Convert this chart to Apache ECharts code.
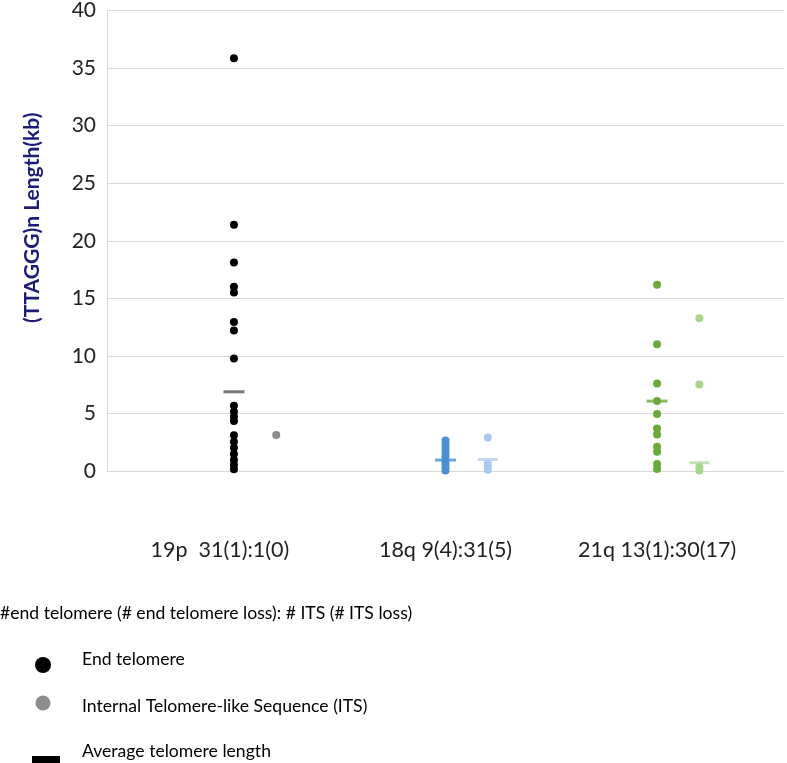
<!DOCTYPE html>
<html>
<head>
<meta charset="utf-8">
<script src="https://cdn.jsdelivr.net/npm/echarts@6/dist/echarts.min.js"></script>
<style>
html,body{margin:0;padding:0;background:#fff;}
#chart{width:787px;height:763px;}
</style>
</head>
<body>
<div id="chart"></div>
<script>
// ---- data ----
var categories = ['19p  31(1):1(0)', '18q 9(4):31(5)', '21q 13(1):30(17)'];
var yTicks = [0, 5, 10, 15, 20, 25, 30, 35, 40];
var end19p = [35.86, 21.4, 18.1, 16.0, 15.5, 12.95, 12.2, 9.78, 5.67, 5.15, 4.71, 4.34, 3.1, 2.54, 2.02, 1.48, 0.95, 0.52, 0.15];
var its19p = [3.12];
var end18q = [2.65, 2.3, 1.95, 1.6, 1.25, 0.9, 0.6, 0.3, 0.05];
var its18q = [2.92, 0.65, 0.35, 0.1];
var end21q = [16.17, 11.0, 7.6, 6.07, 4.95, 3.7, 3.18, 2.1, 1.67, 0.6, 0.17];
var its21q = [13.27, 7.52, 0.37, 0.05];
var meanEnd = [6.88, 0.95, 6.07];
var meanIts = [null, 1.0, 0.72];
var legendHeader = '#end telomere (# end telomere loss): # ITS (# ITS loss)';
var legendLabels = ['End telomere', 'Internal Telomere-like Sequence (ITS)', 'Average telomere length'];

// ---- style ----
var endColors = ['#000000', '#4a8fd6', '#6aaa3c'];
var itsColors = ['#8c8c8c', '#a9c9ee', '#a9d48f'];
var meanEndColors = ['#555555', '#4a8fd6', '#6aaa3c'];
var meanItsColors = ['#8c8c8c', '#b4d0f0', '#b5dba0'];
var ITS_OFFSET = 0.2;
var FONT = 'Lato, "Open Sans", sans-serif';
var LEG_FONT = '17.6px ' + FONT;

var endSets = [end19p, end18q, end21q];
var itsSets = [its19p, its18q, its21q];

var series = [];
endSets.forEach(function (arr, i) {
  series.push({
    type: 'scatter', name: categories[i] + ' end', symbol: 'circle', symbolSize: 8,
    itemStyle: { color: endColors[i], opacity: 1 }, z: 3,
    data: arr.map(function (v) { return [i, v]; })
  });
});
itsSets.forEach(function (arr, i) {
  series.push({
    type: 'scatter', name: categories[i] + ' ITS', symbol: 'circle', symbolSize: 8,
    itemStyle: { color: itsColors[i], opacity: 1 }, z: 3,
    data: arr.map(function (v) { return [i + ITS_OFFSET, v]; })
  });
});
series.push({
  type: 'scatter', name: 'mean end', symbol: 'rect', symbolSize: [21, 3], z: 4,
  data: meanEnd.map(function (v, i) {
    return { value: [i, v], itemStyle: { color: meanEndColors[i] } };
  })
});
series.push({
  type: 'scatter', name: 'mean ITS', symbol: 'rect', symbolSize: [20, 3], z: 4,
  data: meanIts.map(function (v, i) {
    return v === null ? null : { value: [i + ITS_OFFSET, v], itemStyle: { color: meanItsColors[i] } };
  }).filter(function (d) { return d !== null; })
});

var chart = echarts.init(document.getElementById('chart'), null, { renderer: 'canvas' });
chart.setOption({
  animation: false,
  backgroundColor: '#ffffff',
  grid: { left: 107, right: 0, top: 10, bottom: 292, containLabel: false },
  xAxis: {
    type: 'value', min: -0.6, max: 2.6, interval: 0.2,
    axisLine: { show: true, onZero: false, lineStyle: { color: '#d9d9d9', width: 1 } },
    axisTick: { show: false },
    splitLine: { show: false },
    axisLabel: {
      interval: 0, hideOverlap: false, margin: 68,
      color: '#222', fontFamily: FONT, fontSize: 21.5,
      formatter: function (v) {
        var r = Math.round(v);
        if (Math.abs(v - r) < 1e-6 && r >= 0 && r < categories.length) {
          return r === 0 ? '{a|' + categories[r] + '}' : categories[r];
        }
        return '';
      },
      rich: { a: { color: '#222', fontFamily: FONT, fontSize: 21.5, padding: [0, 28, 0, 0] } }
    }
  },
  yAxis: {
    type: 'value', min: yTicks[0], max: yTicks[yTicks.length - 1], interval: 5,
    name: '(TTAGGG)n Length(kb)', nameLocation: 'middle', nameGap: 64, nameRotate: 90,
    nameTextStyle: { color: '#1c1c78', fontFamily: FONT, fontWeight: 'bold', fontSize: 21, padding: [0, 0, 0, 46] },
    axisLine: { show: true, onZero: false, lineStyle: { color: '#d9d9d9', width: 1 } },
    axisTick: { show: false },
    splitLine: { show: true, lineStyle: { color: '#d9d9d9', width: 1 } },
    axisLabel: { color: '#222', fontFamily: FONT, fontSize: 21, margin: 11 }
  },
  series: series,
  graphic: [
    { type: 'text', left: 0, top: 604, style: { text: legendHeader, font: LEG_FONT, fill: '#000' } },
    { type: 'circle', shape: { cx: 43, cy: 665, r: 8 }, style: { fill: '#000' } },
    { type: 'text', left: 82, top: 650, style: { text: legendLabels[0], font: LEG_FONT, fill: '#000' } },
    { type: 'circle', shape: { cx: 43, cy: 703, r: 7.5 }, style: { fill: '#8c8c8c' } },
    { type: 'text', left: 82, top: 697, style: { text: legendLabels[1], font: LEG_FONT, fill: '#000' } },
    { type: 'rect', shape: { x: 32, y: 756, width: 28, height: 8 }, style: { fill: '#000' } },
    { type: 'text', left: 82, top: 742, style: { text: legendLabels[2], font: LEG_FONT, fill: '#000' } }
  ]
});
</script>
</body>
</html>
